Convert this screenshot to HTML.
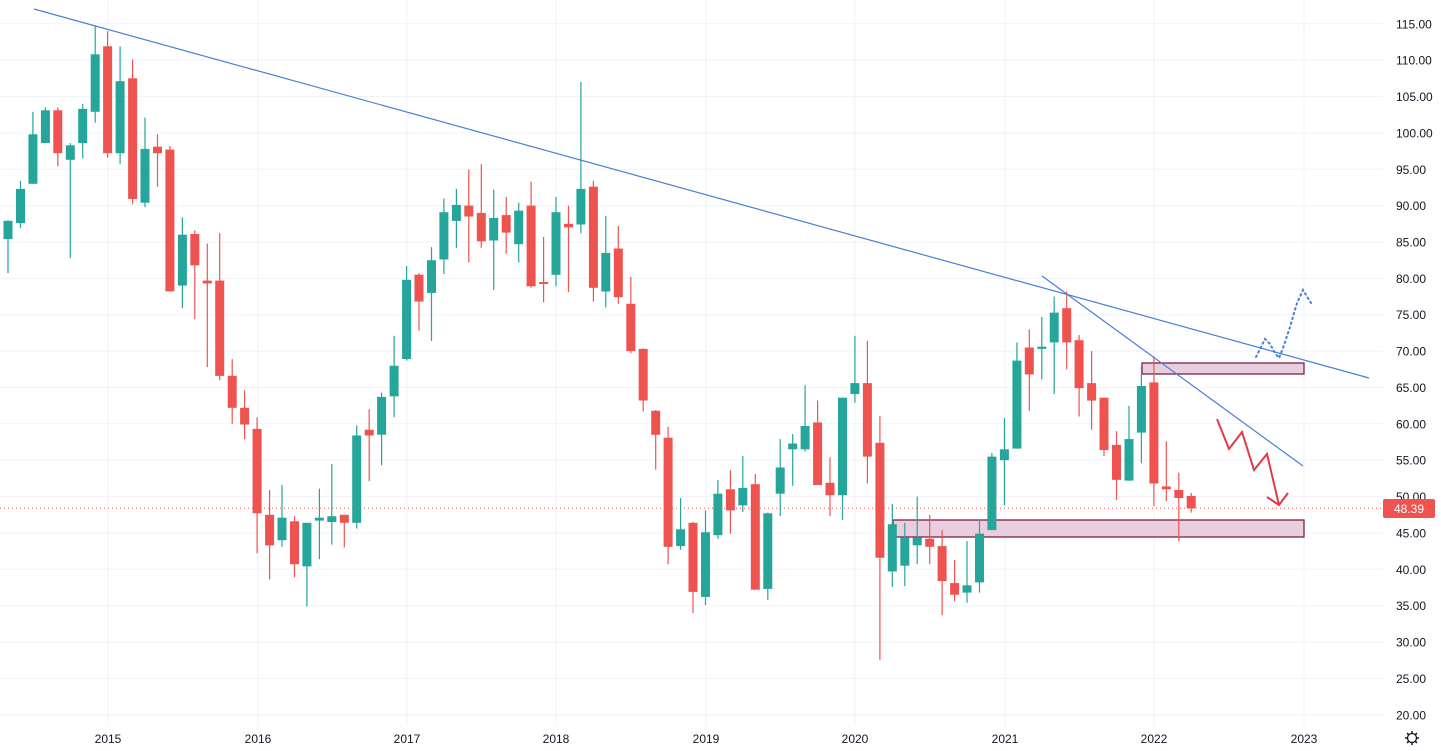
<!DOCTYPE html>
<html><head><meta charset="utf-8"><style>
html,body{margin:0;padding:0;background:#fff;width:1441px;height:751px;overflow:hidden}
svg{display:block;font-family:"Liberation Sans",sans-serif}
</style></head><body>
<svg id="c" width="1441" height="751" xmlns="http://www.w3.org/2000/svg"></svg>
<script>
const S=document.getElementById('c');
const Y=v=>508.3-(v-48.39)*7.274;
let h='';
// grid
for(let v=20;v<=115;v+=5){const y=Y(v).toFixed(1);h+=`<line x1="0" x2="1383" y1="${y}" y2="${y}" stroke="#f0f3fa" stroke-width="1"/>`;
h+=`<text x="1396" y="${(+y+4.5).toFixed(1)}" font-size="12" fill="#131722">${v.toFixed(2)}</text>`;}
const yrs=[[108,'2015'],[258,'2016'],[407,'2017'],[556,'2018'],[706,'2019'],[855,'2020'],[1005,'2021'],[1154,'2022'],[1304,'2023']];
for(const [x,t] of yrs){h+=`<line x1="${x}" x2="${x}" y1="0" y2="726" stroke="#f0f3fa"/>`;
h+=`<text x="${x}" y="743" font-size="12" fill="#131722" text-anchor="middle">${t}</text>`;}
// boxes
h+=`<rect x="893" y="520" width="411" height="17" fill="#e9cfdd" stroke="#7b1f4e" stroke-width="1.3"/>`;
h+=`<rect x="1142" y="363" width="162" height="11" fill="#e9cfdd" stroke="#7b1f4e" stroke-width="1.3"/>`;
// dotted price line
h+=`<line x1="0" x2="1383" y1="508.3" y2="508.3" stroke="#ef5350" stroke-width="1" stroke-dasharray="1,3"/>`;
const d=[[85.4,87.9,88,80.7],[87.6,92.3,93.4,86.9],[93,99.8,102.9,93],[98.6,103.1,103.5,98.6],[103.1,97.2,103.5,95.4],[96.3,98.3,98.6,82.8],[98.6,103.3,104,96.5],[102.9,110.8,114.8,101.4],[111.9,97.2,114,96.6],[97.2,107.1,111.9,95.7],[107.5,90.9,110.1,90.2],[90.4,97.8,102.1,89.8],[98.1,97.2,99.8,92.6],[97.7,78.2,98.2,78.2],[79,86,88.4,75.9],[86.1,81.8,86.6,74.4],[79.7,79.3,84.8,67.8],[79.7,66.6,86.2,66],[66.6,62.2,68.9,60],[62.2,59.9,64.6,57.9],[59.3,47.7,60.9,42.2],[47.5,43.3,50.9,38.6],[44,47.1,51.6,43.1],[46.6,40.7,47.3,38.9],[40.4,46.4,46.4,34.9],[46.7,47.1,51.1,41.4],[46.5,47.3,54.5,43.4],[47.5,46.4,47.5,43],[46.4,58.4,59.8,45.6],[59.2,58.4,62,52.1],[58.5,63.7,64.3,54.3],[63.8,68,72.1,60.9],[68.9,79.8,81.7,68.7],[80.5,76.8,80.7,72.8],[78,82.5,84.3,71.4],[82.6,89.1,91,80.6],[87.9,90.1,92.3,84.2],[90,88.5,95,82.2],[89,85.1,95.7,84.2],[85.2,88.3,92.2,78.4],[88.7,86.3,91.2,83.4],[84.7,89.3,90.4,82.2],[90,78.9,93.3,78.7],[79.5,79.3,85.7,76.7],[80.5,89.1,91.2,78.9],[87.5,87,90,78.1],[87.4,92.3,107,86.2],[92.6,78.7,93.4,76.8],[78.2,83.5,88.6,76],[84.1,77.4,87.2,76.5],[76.5,70,80.2,69.7],[70.3,63.2,70.4,61.7],[61.8,58.5,61.9,53.7],[58.1,43.1,59.6,40.7],[43.2,45.5,49.8,42.7],[46.4,36.9,46.5,34],[36.2,45.1,48.1,35.1],[44.7,50.4,52.3,44.2],[51,48.1,53.6,44.9],[48.8,51.2,55.6,47.9],[51.7,37.2,53.1,37.2],[37.3,47.7,47.8,35.8],[50.4,54,57.9,47.3],[56.5,57.3,58.6,51.5],[56.5,59.7,65.3,56.2],[60.2,51.6,63.2,51.6],[51.9,50.2,55.4,47.3],[50.2,63.6,63.6,46.8],[64.1,65.6,72.1,62.9],[65.6,55.5,71.4,51.8],[57.4,41.6,61.1,27.5],[39.7,46.2,49,37.6],[40.5,44.4,46.4,37.7],[43.3,44.4,50,40.7],[44.2,43.1,47.5,40.7],[43.2,38.4,45.4,33.7],[38.1,36.5,41.3,35.6],[36.8,37.8,43.9,35.4],[38.2,44.9,46.8,36.8],[45.4,55.5,56,45.4],[55,56.5,60.8,48.8],[56.6,68.7,71.2,56.6],[70.5,66.8,73,61.8],[70.3,70.6,74.7,66.1],[71.2,75.3,77.5,64.1],[75.9,71.2,78.2,67.5],[71.5,64.9,72.2,61],[65.6,63.2,70,59.2],[63.6,56.4,63.6,55.6],[57.1,52.3,59,49.5],[52.2,57.9,62.5,52.2],[58.8,65.2,67.9,54.6],[65.7,51.8,69.3,48.7],[51.4,51,57.6,49.4],[50.9,49.8,53.3,43.9],[50.1,48.39,50.5,47.8]];
function candle(x,o,c,hi,lo){const col=c>=o?'#26a69a':'#ef5350';
 const t=Y(Math.max(o,c)),b=Y(Math.min(o,c));
 h+=`<line x1="${x}" x2="${x}" y1="${Y(hi).toFixed(1)}" y2="${Y(lo).toFixed(1)}" stroke="${col}" stroke-width="1.2"/>`;
 h+=`<rect x="${(x-4.5).toFixed(1)}" y="${t.toFixed(1)}" width="9" height="${Math.max(2,b-t).toFixed(1)}" fill="${col}"/>`;}
candle(-4.5,92.4,87.9,93,85);
d.forEach((r,i)=>candle(+(8+12.455*i).toFixed(1),...r));
// trendlines
h+=`<line x1="34" y1="9" x2="1369" y2="378" stroke="#4a7fd4" stroke-width="1.2"/>`;
h+=`<line x1="1042" y1="276" x2="1303" y2="466" stroke="#4a7fd4" stroke-width="1.2"/>`;
// red zigzag arrow
h+=`<polyline points="1217,419 1229,449 1242,432 1254,470 1267,454 1279,505" fill="none" stroke="#e53945" stroke-width="2"/>`;
h+=`<polyline points="1267,497 1279,505 1288,493" fill="none" stroke="#e53945" stroke-width="2"/>`;
// blue dotted
h+=`<polyline points="1256,357 1265,339 1270,344 1275,353 1279,358 1283,348 1290,327 1297,303 1303,290 1311,303" fill="none" stroke="#4a7fd4" stroke-width="2" stroke-dasharray="1.5,3.5" stroke-linecap="round"/>`;
// price label
h+=`<rect x="1383" y="499" width="52" height="19" rx="2" fill="#ef5350"/>`;
h+=`<text x="1409" y="513" font-size="12" fill="#fff" text-anchor="middle">48.39</text>`;
// gear
h+=`<circle cx="1412" cy="738" r="4.5" fill="none" stroke="#131722" stroke-width="1.3"/>`;
for(let a=0;a<8;a++){const r=a*Math.PI/4;h+=`<line x1="${1412+5*Math.cos(r)}" y1="${738+5*Math.sin(r)}" x2="${1412+7*Math.cos(r)}" y2="${738+7*Math.sin(r)}" stroke="#131722" stroke-width="1.5"/>`;}
S.innerHTML=h;
</script>
</body></html>
